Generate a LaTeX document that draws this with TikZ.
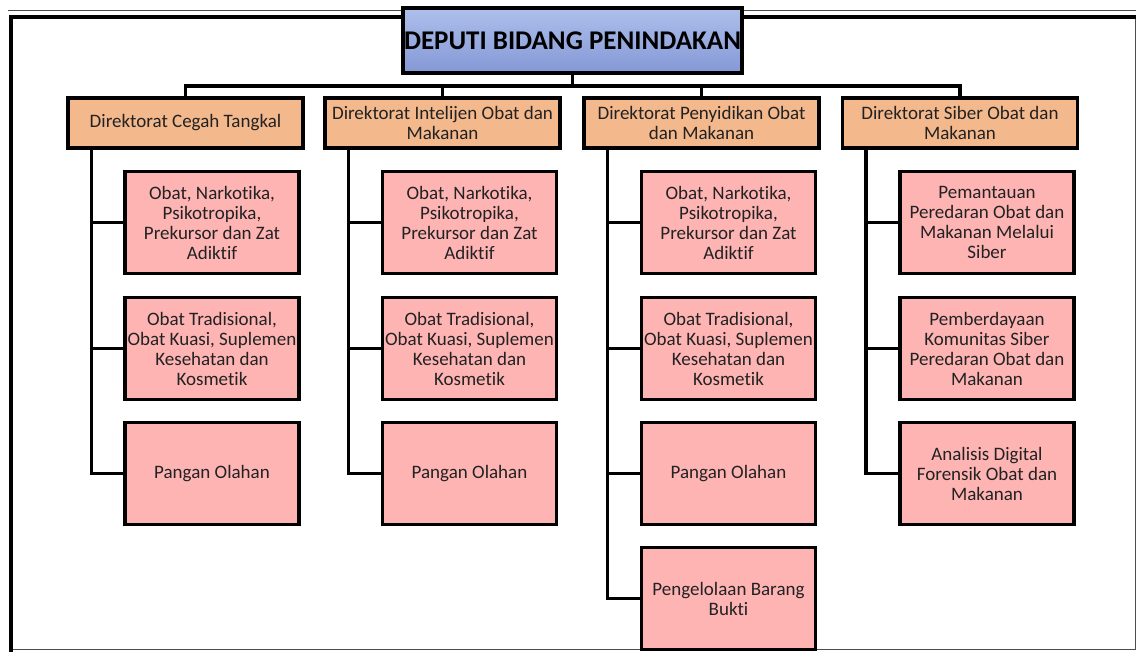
\documentclass[tikz,border=0pt]{standalone}
\usepackage{fontspec}
\setmainfont{Carlito}[Ligatures=NoCommon]
\usepackage{tikz}
\definecolor{deputitop}{HTML}{AEBFEB}
\definecolor{deputibot}{HTML}{8498D6}
\definecolor{dirorange}{HTML}{F4B88D}
\definecolor{subpink}{HTML}{FFB4B4}
\definecolor{txt}{HTML}{222222}

\begin{document}
\begin{tikzpicture}[x=1pt,y=-1pt,
	deputi/.style={shape=rectangle,draw=black,line width=3.5,top color=deputitop,bottom color=deputibot,
		minimum width=339,minimum height=65,inner sep=0,font=\fontsize{27}{32}\selectfont\bfseries},
	direktorat/.style={shape=rectangle,draw=black,line width=3.5,fill=dirorange,text=txt,
		minimum width=235,minimum height=50,inner sep=0,align=center,font=\fontsize{19}{20}\selectfont},
	seksi/.style={shape=rectangle,draw=black,line width=3.5,fill=subpink,text=txt,
		minimum width=174,minimum height=102,inner sep=0,align=center,font=\fontsize{19}{20}\selectfont},
	link/.style={line width=3.5}]
	
	\useasboundingbox (0,0) rectangle (1136,652);
	
	% frame
	\draw[line width=1, black!70] (8,11) -- (1136,11);
	\draw[line width=1, black!70] (13,649) -- (1136,649);
	\draw[line width=1, black!70] (1135,17) -- (1135,649);
	\draw[line width=4.5] (11,652) -- (11,17) -- (1136,17);
	
	\node[deputi] (dep) at (572.5, 40.5) {DEPUTI BIDANG PENINDAKAN};
	
	\node[direktorat] (d1) at (185.5, 123) {Direktorat Cegah Tangkal};
	\node[direktorat] (d2) at (442.5, 123) {Direktorat Intelijen Obat dan\\Makanan};
	\node[direktorat] (d3) at (701.5, 123) {Direktorat Penyidikan Obat\\dan Makanan};
	\node[direktorat] (d4) at (960, 123)   {Direktorat Siber Obat dan\\Makanan};
	
	\node[seksi] (a1) at (212, 222.5) {Obat, Narkotika,\\Psikotropika,\\Prekursor dan Zat\\Adiktif};
	\node[seksi] (b1) at (212, 348.5) {Obat Tradisional,\\Obat Kuasi, Suplemen\\Kesehatan dan\\Kosmetik};
	\node[seksi] (c1) at (212, 473.5) {Pangan Olahan};
	
	\node[seksi] (a2) at (469.5, 222.5) {Obat, Narkotika,\\Psikotropika,\\Prekursor dan Zat\\Adiktif};
	\node[seksi] (b2) at (469.5, 348.5) {Obat Tradisional,\\Obat Kuasi, Suplemen\\Kesehatan dan\\Kosmetik};
	\node[seksi] (c2) at (469.5, 473.5) {Pangan Olahan};
	
	\node[seksi] (a3) at (728.5, 222.5) {Obat, Narkotika,\\Psikotropika,\\Prekursor dan Zat\\Adiktif};
	\node[seksi] (b3) at (728.5, 348.5) {Obat Tradisional,\\Obat Kuasi, Suplemen\\Kesehatan dan\\Kosmetik};
	\node[seksi] (c3) at (728.5, 473.5) {Pangan Olahan};
	\node[seksi] (e3) at (728.5, 598.5) {Pengelolaan Barang\\Bukti};
	
	\node[seksi] (a4) at (987, 222.5) {Pemantauan\\Peredaran Obat dan\\Makanan Melalui\\Siber};
	\node[seksi] (b4) at (987, 348.5) {Pemberdayaan\\Komunitas Siber\\Peredaran Obat dan\\Makanan};
	\node[seksi] (c4) at (987, 473.5) {Analisis Digital\\Forensik Obat dan\\Makanan};
	
	% bus under the deputi
	\coordinate (bus) at (572.5, 86);
	\draw[link] (dep.south) -- (bus);
	\draw[link] (d1.north) -- (d1.north |- bus) -- (d4.north |- bus) -- (d4.north);
	\draw[link] (d2.north) -- (d2.north |- bus);
	\draw[link] (d3.north) -- (d3.north |- bus);
	
	% trunks
	\foreach \d/\last in {1/c, 2/c, 3/e, 4/c}
		\draw[link] ([xshift=25]d\d.south west) |- (\last\d.west);
	\foreach \d in {1,2,3,4}
		\foreach \s in {a,b}
			\draw[link] ([xshift=25]d\d.south west |- \s\d.west) -- (\s\d.west);
	\draw[link] ([xshift=25]d3.south west |- c3.west) -- (c3.west);
	
\end{tikzpicture}
\end{document}
